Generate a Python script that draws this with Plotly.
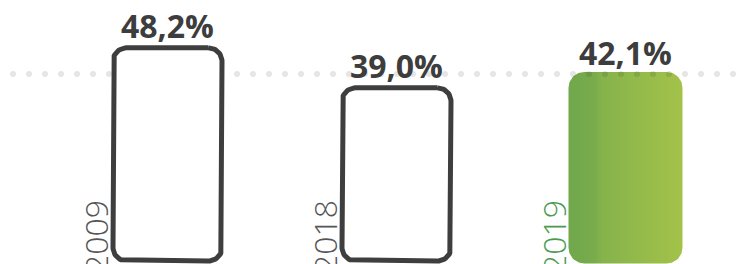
import numpy as np
import plotly.graph_objects as go

# ---- data ----
years = ["2009", "2018", "2019"]
values = [48.2, 39.0, 42.1]
value_labels = ["48,2%", "39,0%", "42,1%"]
reference_value = 41.6

# ---- layout constants (pixels) ----
W, H = 746, 264
PX_PER_X = 229.0          # px per category step
X0_PX = 167.5             # px of first category centre
PX_PER_Y = 4.347          # px per percentage point
Y0_PX = 254.9             # px (from top) of value 0
HALF_W_PX = 57.0          # outer half width of a bar
RADIUS_PX = 16.0
BOTTOM_PX = 263.5
STROKE = 5.0

x_range = [(0 - X0_PX) / PX_PER_X, (W - X0_PX) / PX_PER_X]
y_range = [(Y0_PX - H) / PX_PER_Y, Y0_PX / PX_PER_Y]
base_val = (Y0_PX - BOTTOM_PX) / PX_PER_Y


def rounded_rect(xc, top, inset_px):
    """Closed rounded rectangle path in data coordinates."""
    hw = (HALF_W_PX - inset_px) / PX_PER_X
    top_v = top - inset_px / PX_PER_Y
    bot_v = base_val + inset_px / PX_PER_Y
    r = RADIUS_PX - inset_px
    rx, ry = r / PX_PER_X, r / PX_PER_Y
    xs, ys = [], []
    t = np.linspace(0, np.pi / 2, 16)
    cx, cy = xc + hw - rx, top_v - ry
    xs += list(cx + rx * np.cos(np.pi / 2 - t)); ys += list(cy + ry * np.sin(np.pi / 2 - t))
    cx, cy = xc + hw - rx, bot_v + ry
    xs += list(cx + rx * np.cos(-t)); ys += list(cy + ry * np.sin(-t))
    cx, cy = xc - hw + rx, bot_v + ry
    xs += list(cx + rx * np.cos(-np.pi / 2 - t)); ys += list(cy + ry * np.sin(-np.pi / 2 - t))
    cx, cy = xc - hw + rx, top_v - ry
    xs += list(cx + rx * np.cos(np.pi - t)); ys += list(cy + ry * np.sin(np.pi - t))
    xs.append(xs[0]); ys.append(ys[0])
    return xs, ys


fig = go.Figure()

# green (highlighted) bar first, dots drawn over it
xs, ys = rounded_rect(2, values[2], 0)
fig.add_trace(go.Scatter(
    x=xs, y=ys, mode="lines", fill="toself", line=dict(width=0, color="rgba(0,0,0,0)"),
    fillgradient=dict(type="horizontal",
                      colorscale=[[0, "#70a84c"], [0.22, "#78ab4c"], [0.3, "#86b34c"], [1, "#a3c249"]]),
    hoverinfo="skip"))

# dotted reference line
dot_px = np.arange(13, W, 16)
fig.add_trace(go.Scatter(
    x=(dot_px - X0_PX) / PX_PER_X, y=[reference_value] * len(dot_px), mode="markers",
    marker=dict(size=6, color="rgba(0,0,0,0.10)", line=dict(width=0)), hoverinfo="skip"))

# outlined bars
for i in range(2):
    xs, ys = rounded_rect(i, values[i], STROKE / 2)
    fig.add_trace(go.Scatter(
        x=xs, y=ys, mode="lines", fill="toself", fillcolor="white",
        line=dict(width=STROKE, color="#3e3e3e"), hoverinfo="skip"))

# value labels
for i, (v, lab) in enumerate(zip(values, value_labels)):
    fig.add_annotation(x=i, y=v, text=f"<b>{lab}</b>", showarrow=False,
                       xanchor="center", yanchor="bottom", yshift=-4,
                       font=dict(family="Open Sans", size=32, color="#3d3d3d"))

# year labels
year_colors = ["#555555", "#555555", "#4b9a50"]
for i, (yr, c) in enumerate(zip(years, year_colors)):
    fig.add_annotation(x=i, y=(Y0_PX - 198) / PX_PER_Y, text=yr, showarrow=False,
                       textangle=-90, xanchor="center", yanchor="top",
                       xshift=-(HALF_W_PX + 15),
                       font=dict(family="Open Sans", size=32, color=c, weight=300))

fig.update_layout(
    width=W, height=H, margin=dict(l=0, r=0, t=0, b=0),
    paper_bgcolor="white", plot_bgcolor="white", showlegend=False,
    xaxis=dict(range=x_range, visible=False, fixedrange=True),
    yaxis=dict(range=y_range, visible=False, fixedrange=True),
)

fig.write_html("out.html", config={"displayModeBar": False},
               post_script="document.body.style.margin='0';document.body.style.overflow='hidden';")
